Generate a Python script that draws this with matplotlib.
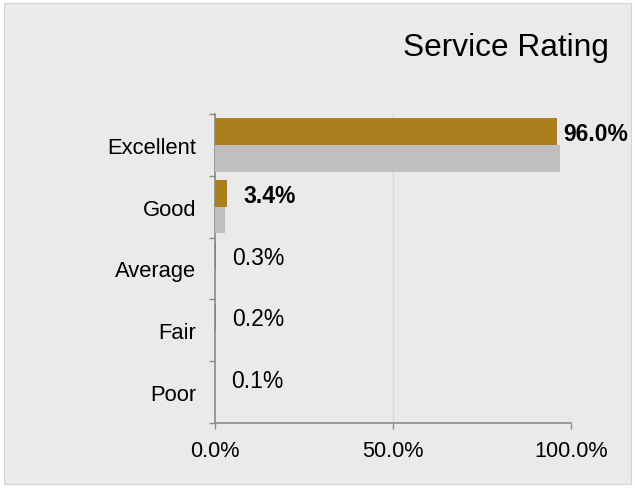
import matplotlib.pyplot as plt
import numpy as np
from matplotlib.patches import Rectangle

# data
categories = ['Excellent', 'Good', 'Average', 'Fair', 'Poor']
current = [96.0, 3.4, 0.3, 0.2, 0.1]
previous = [96.9, 2.7, 0.1, 0.1, 0.0]

gold = '#ab7e1e'
grey = '#bfbfbf'
bg = '#eaeaea'

plt.rcParams['font.family'] = ['Liberation Sans', 'DejaVu Sans']

W, H = 635, 489
fig = plt.figure(figsize=(W / 100, H / 100), dpi=100, facecolor='white')
fig.patches.append(Rectangle((4 / W, 4 / H), 627 / W, 481 / H, transform=fig.transFigure,
                             facecolor=bg, edgecolor='#d4d4d4', linewidth=0.8, zorder=-10))

ax = fig.add_axes([215 / W, 1 - 424 / H, 356 / W, 309 / H])
ax.set_zorder(1)
ax.patch.set_alpha(0)

y = np.arange(len(categories))
h = 0.432
ax.barh(y - h / 2, current, height=h, color=gold, zorder=3)
ax.barh(y + h / 2, previous, height=h, color=grey, zorder=3)

ax.set_xlim(0, 100)
ax.set_ylim(len(categories) - 0.5, -0.5)

# value labels next to the gold bars
for i, v in enumerate(current):
    off = 4.5 if v > 90 else 11.5
    weight = 'bold' if v >= 1 else 'normal'
    ax.annotate(f'{v:.1f}%', xy=(v, i - h / 2 + 0.03), xytext=(off, 0), textcoords='offset points',
                ha='left', va='center', fontsize=16.5, fontweight=weight,
                annotation_clip=False, zorder=5)

ax.set_xticks([0, 50, 100])
ax.set_xticklabels(['0.0%', '50.0%', '100.0%'])
ax.set_yticks(y)
ax.set_yticklabels(categories)
ax.set_yticks(np.arange(len(categories) + 1) - 0.5, minor=True)
ax.tick_params(axis='y', which='major', length=0, labelsize=15.8, pad=13.5)
ax.tick_params(axis='y', which='minor', length=4.5, width=1, color='#8c8c8c', direction='out')
ax.tick_params(axis='x', length=4.5, width=1, color='#8c8c8c', labelsize=15.6, pad=8)

ax.grid(axis='x', color='#d6d6d6', linewidth=1, zorder=0)
for s in ['top', 'right']:
    ax.spines[s].set_visible(False)
for s in ['left', 'bottom']:
    ax.spines[s].set_color('#8c8c8c')
    ax.spines[s].set_linewidth(1.2)

fig.text(609 / W, 1 - 56 / H, 'Service Rating', ha='right', va='baseline', fontsize=22.8)

fig.savefig('out.png', dpi=100, facecolor='white')
